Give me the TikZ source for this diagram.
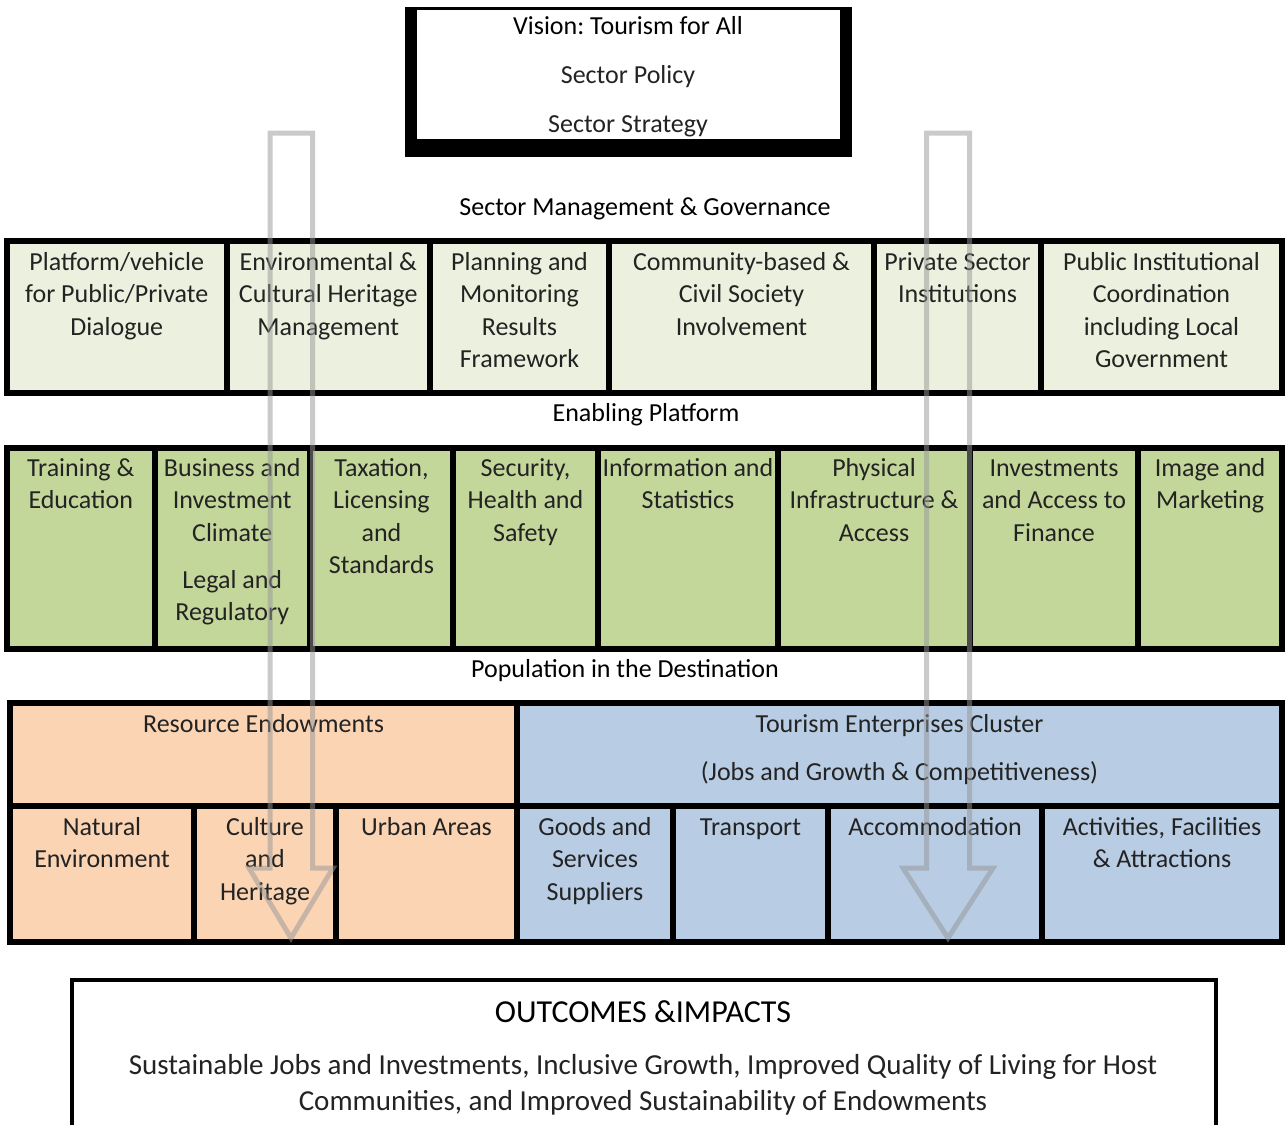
\documentclass[tikz,border=0pt]{standalone}
\usepackage{fontspec}
\setmainfont{Carlito}
\frenchspacing
\usetikzlibrary{fit,calc}
\definecolor{lgreen}{RGB}{235,241,222}
\definecolor{mgreen}{RGB}{196,215,155}
\definecolor{peach}{RGB}{251,212,180}
\definecolor{lblue}{RGB}{184,204,228}
\definecolor{arrowgray}{RGB}{150,150,150}
\definecolor{bodytext}{RGB}{35,35,35}
\newcommand\mycell[8]{%
  \node[cellbox, fill=#6, fit={(#2,#3) (#4,#5)}] (#1) {};
  \node[celltext] (#1-t) at ({(#2+#4)/2},#7) {\parbox[t]{400pt}{\centering #8}};
}
\begin{document}
\begin{tikzpicture}[x=1pt,y=-1pt,
  cellbox/.style={draw=black, line width=6pt, inner sep=0pt, outer sep=0pt},
  celltext/.style={inner sep=0pt, anchor=base, font=\fontsize{26}{32.5}\selectfont\frenchspacing, text=bodytext},
  heading/.style={inner sep=0pt, anchor=base, font=\fontsize{26}{32.5}\selectfont\frenchspacing, text=black},
  blockarrow/.style={draw=arrowgray, line width=5pt, draw opacity=0.5, line join=miter, miter limit=10}]
\clip (0,0) rectangle (1287,1124);
\fill[white] (0,0) rectangle (1287,1124);

% Vision box
\node[fill=black, inner sep=0pt, outer sep=0pt, fit={(405,7) (852,157)}] (visionbg) {};
\node[fill=white, inner sep=0pt, outer sep=0pt, fit={(417,10) (840,139)}] (vision) {};
\node[heading] (vtitle) at (628,35) {Vision: Tourism for All};
\node[celltext] (vpolicy) at (628,83.5) {Sector Policy};
\node[celltext] (vstrategy) at (628,132) {Sector Strategy};

% Section headings
\node[heading] (smg) at (645,215) {Sector Management \& Governance};
\node[heading] (ep) at (646,421) {Enabling Platform};
\node[heading] (pop) at (625,677) {Population in the Destination};

% Row 1
\mycell{a1}{7}{240.5}{226.5}{393}{lgreen}{270}{Platform/vehicle\\for Public/Private\\Dialogue}
\mycell{a2}{226.5}{240.5}{430}{393}{lgreen}{270}{Environmental \&\\Cultural Heritage\\Management}
\mycell{a3}{430}{240.5}{609}{393}{lgreen}{270}{Planning and\\Monitoring\\Results\\Framework}
\mycell{a4}{609}{240.5}{874}{393}{lgreen}{270}{Community-based \&\\Civil Society\\Involvement}
\mycell{a5}{874}{240.5}{1041}{393}{lgreen}{270}{Private Sector\\Institutions}
\mycell{a6}{1041}{240.5}{1282}{393}{lgreen}{270}{Public Institutional\\Coordination\\including Local\\Government}

% Row 2
\mycell{b1}{7}{447.5}{154.5}{648.5}{mgreen}{476}{Training \&\\Education}
\mycell{b2}{154.5}{447.5}{310}{648.5}{mgreen}{476}{Business and\\Investment\\Climate\\[14.5pt]Legal and\\Regulatory}
\mycell{b3}{310}{447.5}{453}{648.5}{mgreen}{476}{Taxation,\\Licensing\\and\\Standards}
\mycell{b4}{453}{447.5}{598}{648.5}{mgreen}{476}{Security,\\Health and\\Safety}
\mycell{b5}{598}{447.5}{778}{648.5}{mgreen}{476}{Information and\\Statistics}
\mycell{b6}{778}{447.5}{970}{648.5}{mgreen}{476}{Physical\\Infrastructure \&\\Access}
\mycell{b7}{970}{447.5}{1138}{648.5}{mgreen}{476}{Investments\\and Access to\\Finance}
\mycell{b8}{1138}{447.5}{1282}{648.5}{mgreen}{476}{Image and\\Marketing}

% Row 3 top
\mycell{c1}{10}{703}{517}{805.5}{peach}{732}{Resource Endowments}
\mycell{c2}{517}{703}{1282}{805.5}{lblue}{732}{Tourism Enterprises Cluster\\[16pt](Jobs and Growth \& Competitiveness)}

% Row 3 bottom
\mycell{d1}{10}{805.5}{194}{941.5}{peach}{835}{Natural\\Environment}
\mycell{d2}{194}{805.5}{336}{941.5}{peach}{835}{Culture\\and\\Heritage}
\mycell{d3}{336}{805.5}{517}{941.5}{peach}{835}{Urban Areas}
\mycell{d4}{517}{805.5}{673}{941.5}{lblue}{835}{Goods and\\Services\\Suppliers}
\mycell{d5}{673}{805.5}{828}{941.5}{lblue}{835}{Transport}
\mycell{d6}{828}{805.5}{1042}{941.5}{lblue}{835}{Accommodation}
\mycell{d7}{1042}{805.5}{1282}{941.5}{lblue}{835}{Activities, Facilities\\\& Attractions}

% Outcomes box
\node[draw=black, line width=4pt, inner sep=0pt, outer sep=0pt, fit={(72,980) (1215.5,1150)}] (outcomes) {};
\node[inner sep=0pt, anchor=base, font=\fontsize{32}{36}\selectfont, text=black] (otitle) at (643,1022) {OUTCOMES \&IMPACTS};
\node[inner sep=0pt, anchor=base, font=\fontsize{29}{36}\selectfont\frenchspacing, text=bodytext] (obody) at (643,1074) {\parbox[t]{1140pt}{\centering Sustainable Jobs and Investments, Inclusive Growth, Improved Quality of Living for Host\\Communities, and Improved Sustainability of Endowments}};

% Block arrows (outline, semi-transparent)
\draw[blockarrow] (270,133) -- (312.5,133) -- (312.5,868) -- (333,868) -- (291,938) -- (249,868) -- (270,868) -- cycle;
\draw[blockarrow] (926.5,133) -- (969.5,133) -- (969.5,868) -- (993,868) -- (948,938) -- (903,868) -- (926.5,868) -- cycle;
\end{tikzpicture}
\end{document}
